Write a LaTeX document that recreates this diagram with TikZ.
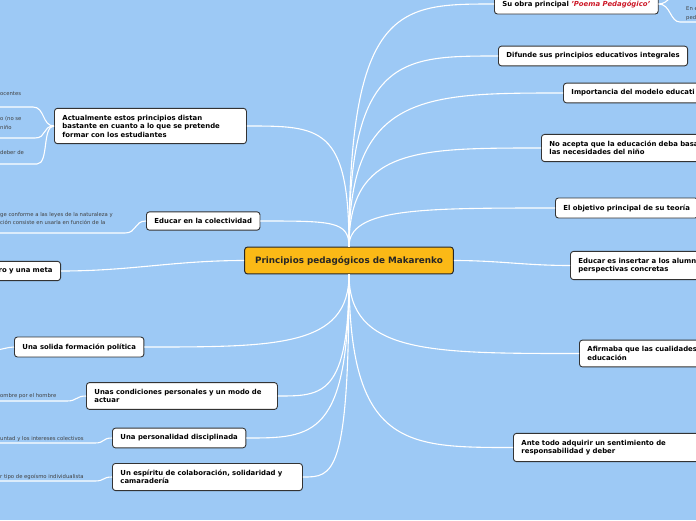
\documentclass[tikz,border=0pt]{standalone}
\usepackage{fontspec}
\setmainfont{DejaVu Sans}
\definecolor{mapblue}{RGB}{157,201,245}
\definecolor{rootfill}{RGB}{251,185,22}
\definecolor{titlered}{RGB}{205,25,40}

\begin{document}
\begin{tikzpicture}[x=1pt,y=-1pt,
    topic/.style={draw=black!80,fill=white,rounded corners=3pt,line width=0.9pt,
      font=\bfseries\fontsize{6.9}{8.5}\selectfont,align=left,
      inner xsep=8pt,inner ysep=6.5pt,anchor=west},
    root/.style={draw=black!85,fill=rootfill,rounded corners=3pt,line width=1pt,
      font=\bfseries\fontsize{8.8}{10}\selectfont,text=black!85,
      inner xsep=10.5pt,inner ysep=9pt},
    leaf/.style={font=\fontsize{5.3}{8.5}\selectfont,text=black!75,align=left,
      inner sep=0pt,anchor=west},
    branch/.style={draw=white,line width=1.1pt}]
  \path[use as bounding box,fill=mapblue] (0,0) rectangle (696,520);
  \clip (0,0) rectangle (696,520);

  % central topic
  \node[root] (root) at (349,260.5) {Principios pedagógicos de Makarenko};

  % right side
  \node[topic] (n1) at (494,4) {Su obra principal \textcolor{titlered}{\itshape 'Poema Pedagógico'}};
  \node[topic] (n2) at (498,56) {Difunde sus principios educativos integrales};
  \node[topic,text width=180pt] (n3) at (563,93) {Importancia del modelo educati};
  \node[topic,text width=180pt] (n4) at (541,148) {No acepta que la educación deba basa\\las necesidades del niño};
  \node[topic] (n5) at (555,208) {El objetivo principal de su teoría};
  \node[topic,text width=180pt] (n6) at (570,265.5) {Educar es insertar a los alumn\\perspectivas concretas};
  \node[topic,text width=180pt] (n7) at (579,353.5) {Afirmaba que las cualidades\\educación};
  \node[topic,text width=180pt] (n8) at (513,447.5) {Ante todo adquirir un sentimiento de\\responsabilidad y deber};

  % left side
  \node[topic,text width=176pt] (A) at (54,126) {Actualmente estos principios distan\\bastante en cuanto a lo que se pretende\\formar con los estudiantes};
  \node[topic] (B) at (146,221) {Educar en la colectividad};
  \node[topic,anchor=east,text width=90pt,align=right] (C) at (61,271) {ro y una meta};
  \node[topic] (D) at (14,347) {Una solida formación política};
  \node[topic,text width=175pt] (E) at (86,396) {Unas condiciones personales y un modo de\\actuar};
  \node[topic] (F) at (112,438) {Una personalidad disciplinada};
  \node[topic,text width=174pt] (G) at (112,477) {Un espíritu de colaboración, solidaridad y\\camaradería};

  % branches
  \foreach \n/\cx/\cy in {n1/400/4,n2/401/56,n3/424/93,n4/416/148,n5/421/208}
    \draw[branch] (root.north) .. controls (root.north |- \n.west) and (\cx,\cy) .. (\n.west);
  \foreach \n/\cx/\cy in {A/320/126,B/332/221}
    \draw[branch] (root.north) .. controls (root.north |- \n.east) and (\cx,\cy) .. (\n.east);
  \foreach \n/\cx/\cy in {n7/429/353.5,n8/406/447.5}
    \draw[branch] (root.south) .. controls (root.south |- \n.west) and (\cx,\cy) .. (\n.west);
  \foreach \n/\cx/\cy in {D/277/347,E/323/396,F/313/438,G/333/477}
    \draw[branch] (root.south) .. controls (root.south |- \n.east) and (\cx,\cy) .. (\n.east);
  \draw[branch] (root.east) .. controls +(45,0) and +(-45,0) .. (n6.west);
  \draw[branch] (root.west) .. controls +(-70,0) and +(70,0) .. (C.east);

  % leaves
  \node[leaf] (a1) at (0,94) {ocentes};
  \node[leaf] (a2) at (0,123) {o (no se\\niño};
  \node[leaf] (a3) at (0,153) {deber de};
  \node[leaf] (b1) at (0,218.5) {ge conforme a las leyes de la naturaleza y\\ción consiste en usarla en función de la};
  \node[leaf] (e1) at (0,396) {ombre por el hombre};
  \node[leaf] (f1) at (0,439) {untad y los intereses colectivos};
  \node[leaf] (g1) at (0,477) {r tipo de egoísmo individualista};
  \node[leaf] (r1) at (686,13.5) {En e\\ped};

  \coordinate (a1u) at (33,107);
  \coordinate (a2u) at (35,138);
  \coordinate (a3u) at (37,164);
  \coordinate (b1u) at (125,233);
  \coordinate (e1u) at (67,401);
  \coordinate (f1u) at (95,443);
  \coordinate (g1u) at (95,481);
  \coordinate (r1u) at (680,22);
  \coordinate (r1e) at (700,22);
  \coordinate (r1t) at (678,-8);
  \coordinate (d0) at (-4,350);

  \draw[branch] (A.west) .. controls +(-12,0) and +(12,0) .. (a1u) -- (a1u -| a1.west);
  \draw[branch] (A.west) .. controls +(-12,0) and +(12,0) .. (a2u) -- (a2u -| a2.west);
  \draw[branch] (A.west) .. controls +(-12,0) and +(12,0) .. (a3u) -- (a3u -| a3.west);
  \draw[branch] (B.west) .. controls +(-12,0) and +(12,0) .. (b1u) -- (b1u -| b1.west);
  \draw[branch] (E.west) .. controls +(-10,0) and +(10,0) .. (e1u) -- (e1u -| e1.west);
  \draw[branch] (F.west) .. controls +(-10,0) and +(10,0) .. (f1u) -- (f1u -| f1.west);
  \draw[branch] (G.west) .. controls +(-10,0) and +(10,0) .. (g1u) -- (g1u -| g1.west);
  \draw[branch] (n1.east) .. controls +(12,0) and +(-10,0) .. (r1u) -- (r1e);
  \draw[branch] (n1.east) .. controls +(10,0) and +(-6,0) .. (r1t);
  \draw[branch] (D.west) .. controls +(-6,0) and +(4,0) .. (d0);
\end{tikzpicture}
\end{document}
